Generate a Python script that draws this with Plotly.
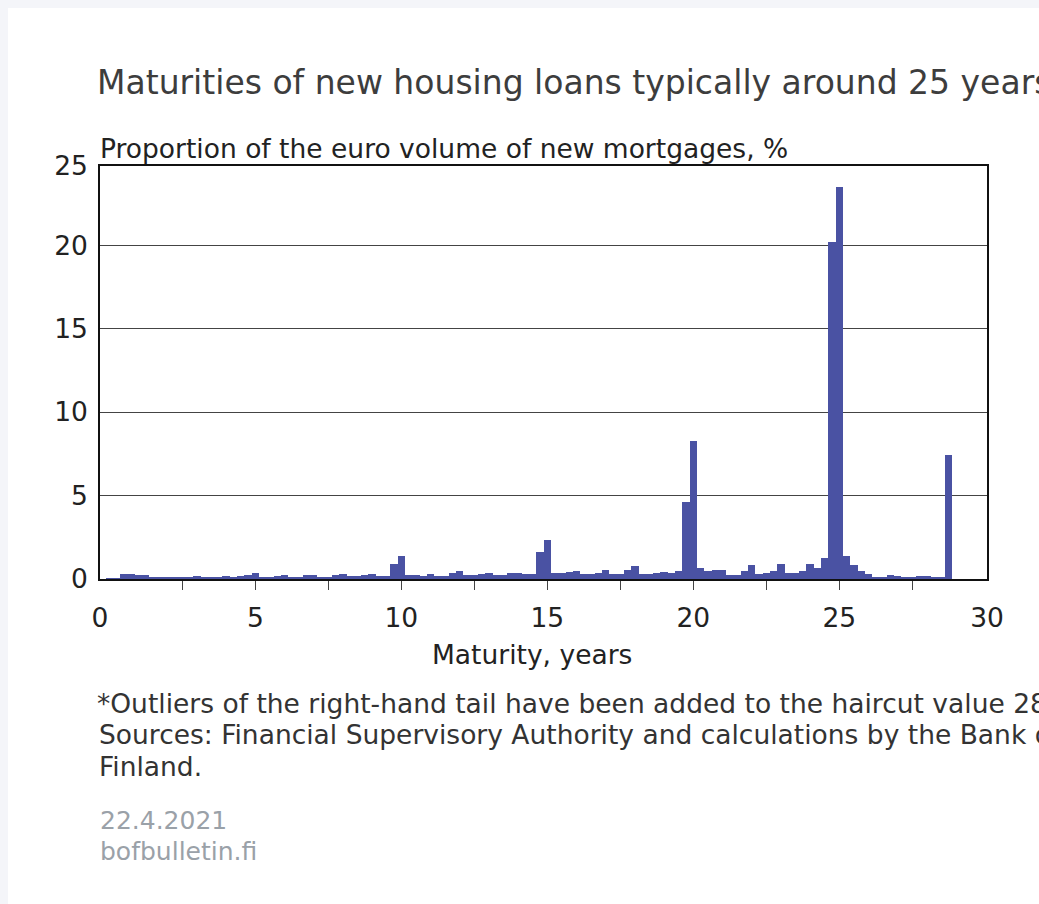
import plotly.graph_objects as go

# Maturity (years), quarter-year bins
maturity = [i * 0.25 for i in range(116)]
share = [
    0.05, 0.05, 0.30, 0.28, 0.22, 0.22, 0.08, 0.08, 0.14, 0.12,
    0.08, 0.08, 0.16, 0.14, 0.12, 0.12, 0.16, 0.15, 0.16, 0.24,
    0.36, 0.12, 0.10, 0.20, 0.22, 0.12, 0.12, 0.24, 0.26, 0.14,
    0.14, 0.26, 0.28, 0.20, 0.20, 0.26, 0.28, 0.20, 0.20, 0.92,
    1.37, 0.24, 0.22, 0.20, 0.30, 0.20, 0.20, 0.36, 0.46, 0.26,
    0.26, 0.32, 0.34, 0.22, 0.22, 0.36, 0.38, 0.30, 0.30, 1.62,
    2.32, 0.38, 0.38, 0.44, 0.46, 0.30, 0.30, 0.38, 0.54, 0.30,
    0.30, 0.54, 0.76, 0.32, 0.32, 0.38, 0.40, 0.34, 0.46, 4.64,
    8.30, 0.66, 0.46, 0.52, 0.54, 0.26, 0.26, 0.48, 0.86, 0.32,
    0.36, 0.46, 0.92, 0.34, 0.34, 0.50, 0.92, 0.68, 1.28, 20.2,
    23.5, 1.40, 0.85, 0.45, 0.28, 0.15, 0.15, 0.22, 0.20, 0.10,
    0.10, 0.18, 0.18, 0.08, 0.08, 7.45,
]

x_tick_vals = [-0.32, 5, 10, 15, 20, 25, 30.06]
x_tick_text = ["0", "5", "10", "15", "20", "25", "30"]
x_minor_vals = [2.5, 5, 7.5, 10, 12.5, 15, 17.5, 20, 22.5, 25, 27.5]
y_tick_vals = [0, 5, 10, 15, 20, 24.76]
y_tick_text = ["0", "5", "10", "15", "20", "25"]

FONT = "DejaVu Sans"
W, H = 1039, 904
L, R, T, B = 100, 987, 166, 579
FS = 26.5

fig = go.Figure(
    go.Bar(
        x=maturity,
        y=share,
        width=0.25,
        marker=dict(color="#4a52a3", line=dict(width=0)),
        hoverinfo="x+y",
    )
)

fig.update_layout(
    width=W,
    height=H,
    margin=dict(l=L, r=W - R, t=T, b=H - B, pad=0),
    paper_bgcolor="#ffffff",
    plot_bgcolor="#ffffff",
    bargap=0,
    showlegend=False,
    font=dict(family=FONT, size=FS, color="#222222"),
    title=dict(
        text="Maturities of new housing loans typically around 25 years",
        x=97 / W,
        xref="container",
        xanchor="left",
        y=1 - 82 / H,
        yref="container",
        yanchor="middle",
        font=dict(family=FONT, size=33, color="#3d3d3d"),
    ),
)

fig.update_xaxes(
    range=[-0.32, 30.06],
    tickmode="array",
    tickvals=x_tick_vals,
    ticktext=x_tick_text,
    ticks="",
    ticklabelstandoff=14,
    showgrid=False,
    zeroline=False,
    showline=True,
    linecolor="#111111",
    linewidth=2,
    mirror=True,
    minor=dict(tickmode="array", tickvals=x_minor_vals, ticks="outside",
               ticklen=9, tickwidth=1, tickcolor="#444444", showgrid=False),
    tickfont=dict(family=FONT, size=FS, color="#222222"),
)

fig.update_yaxes(
    range=[0, 24.76],
    tickmode="array",
    tickvals=y_tick_vals,
    ticktext=y_tick_text,
    ticks="",
    ticklabelstandoff=5,
    showgrid=True,
    gridcolor="#444444",
    gridwidth=1,
    zeroline=False,
    showline=True,
    linecolor="#111111",
    linewidth=1.5,
    mirror=True,
    tickfont=dict(family=FONT, size=FS, color="#222222"),
)

pw, ph = R - L, B - T

def px(xp):
    return (xp - L) / pw

def py(yp):
    return (B - yp) / ph

texts = [
    ("Proportion of the euro volume of new mortgages, %", 98, 148, FS, "#222222", "left"),
    ("Maturity, years", 532, 654, FS, "#222222", "center"),
    ("*Outliers of the right-hand tail have been added to the haircut value 28.75.", 95, 703, FS, "#333333", "left"),
    ("Sources: Financial Supervisory Authority and calculations by the Bank of", 97, 734, FS, "#333333", "left"),
    ("Finland.", 97, 766, FS, "#333333", "left"),
    ("22.4.2021", 98, 820, 25, "#9aa1a8", "left"),
    ("bofbulletin.fi", 98, 851, 25, "#9aa1a8", "left"),
]
annotations = []
for t, x0, y0, size, col, anc in texts:
    annotations.append(dict(text=t, x=px(x0), y=py(y0), xanchor=anc, yanchor="middle",
                            xref="paper", yref="paper", showarrow=False,
                            font=dict(family=FONT, size=size, color=col)))
fig.update_layout(annotations=annotations)

# page frame strip on the left/top
fig.add_shape(type="rect", xref="paper", yref="paper",
              x0=px(0), x1=px(8), y0=py(H + 10), y1=py(-10),
              fillcolor="#f4f5f9", line=dict(width=0), layer="below")
fig.add_shape(type="rect", xref="paper", yref="paper",
              x0=px(0), x1=px(W + 10), y0=py(8), y1=py(-10),
              fillcolor="#f4f5f9", line=dict(width=0), layer="below")

fig.write_html(
    "out.html",
    config={"displayModeBar": False},
    post_script="document.body.style.margin='0';document.body.style.overflow='hidden';",
)
